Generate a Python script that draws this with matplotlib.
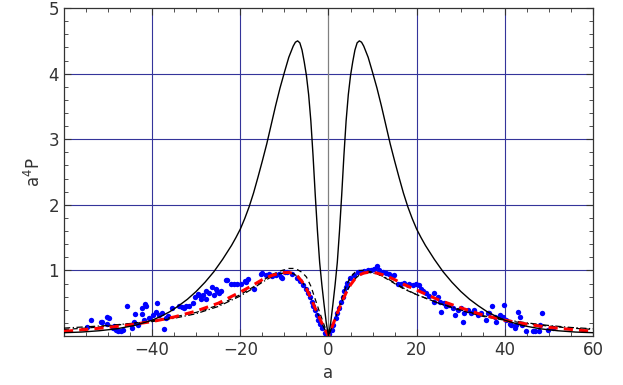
import numpy as np
import matplotlib
matplotlib.use("Agg")
import matplotlib.pyplot as plt
from matplotlib.ticker import MultipleLocator

# courbe noire pleine
solid_x = [-60, -56, -52, -48, -44, -40, -38, -36, -34, -32, -30, -28, -26, -24, -22, -21, -20, -19, -18, -17,
           -16, -15, -14, -13, -12, -11, -10, -9, -8, -7.5, -7, -6.5, -6, -5.5, -5, -4.5, -4, -3.5, -3, -2.5,
           -2, -1.5, -1, -0.5, 0,
           0.5, 1, 1.5, 2, 2.5, 3, 3.5, 4, 4.5, 5, 5.5, 6, 6.5, 7, 7.5, 8, 9, 10, 11, 12, 13, 14, 15, 16,
           17, 18, 19, 20, 21, 22, 24, 26, 28, 30, 32, 34, 36, 38, 40, 44, 48, 52, 56, 60]
solid_y = [0.05, 0.06, 0.08, 0.11, 0.16, 0.24, 0.30, 0.37, 0.46, 0.56, 0.68, 0.82, 0.98, 1.17, 1.38, 1.50,
           1.63, 1.79, 1.97, 2.18, 2.42, 2.67, 2.93, 3.22, 3.51, 3.78, 4.02, 4.25, 4.42, 4.48, 4.50, 4.47,
           4.36, 4.18, 3.97, 3.68, 3.28, 2.75, 2.15, 1.60, 1.12, 0.78, 0.48, 0.20, 0.0,
           0.20, 0.48, 0.78, 1.12, 1.60, 2.15, 2.75, 3.28, 3.68, 3.97, 4.18, 4.36, 4.47, 4.50, 4.48, 4.42,
           4.25, 4.02, 3.78, 3.51, 3.22, 2.93, 2.67, 2.42, 2.18, 1.97, 1.79, 1.63, 1.50, 1.38, 1.17, 0.98,
           0.82, 0.68, 0.56, 0.46, 0.37, 0.30, 0.24, 0.16, 0.11, 0.08, 0.06, 0.05]

# courbes ajustées
fit_x = [-60, -55, -50, -45, -40, -35, -30, -25, -20, -17, -15, -13, -11, -9, -8, -7, -6, -5, -4, -3, -2, -1, 0,
         1, 2, 3, 4, 5, 6, 7, 8, 9, 11, 13, 15, 17, 20, 25, 30, 35, 40, 45, 50, 55, 60]
red_y = [0.07, 0.10, 0.13, 0.17, 0.22, 0.29, 0.38, 0.50, 0.67, 0.78, 0.86, 0.92, 0.96, 0.97, 0.95, 0.91, 0.83,
         0.72, 0.58, 0.42, 0.27, 0.12, 0.0,
         0.17, 0.35, 0.51, 0.66, 0.78, 0.87, 0.93, 0.96, 0.97, 0.96, 0.92, 0.86, 0.79, 0.70, 0.55, 0.43, 0.32,
         0.24, 0.18, 0.13, 0.10, 0.07]
dash_y = [0.10, 0.12, 0.15, 0.19, 0.23, 0.29, 0.36, 0.47, 0.63, 0.75, 0.84, 0.93, 0.99, 1.03, 1.03, 1.01, 0.97,
          0.90, 0.76, 0.56, 0.36, 0.17, 0.0,
          0.17, 0.36, 0.56, 0.76, 0.90, 0.97, 1.00, 1.00, 0.99, 0.95, 0.88, 0.80, 0.72, 0.63, 0.50, 0.39, 0.30,
          0.24, 0.19, 0.15, 0.12, 0.10]
dashdot_y = [0.12, 0.14, 0.16, 0.19, 0.22, 0.27, 0.34, 0.45, 0.61, 0.73, 0.82, 0.90, 0.95, 0.97, 0.95, 0.91, 0.83,
             0.72, 0.58, 0.42, 0.27, 0.12, 0.0,
             0.17, 0.35, 0.51, 0.66, 0.78, 0.87, 0.93, 0.96, 0.97, 0.95, 0.89, 0.81, 0.73, 0.63, 0.50, 0.40, 0.31,
             0.25, 0.20, 0.16, 0.13, 0.11]

# points mesurés
pts_x = [-54.7, -53.8, -51.5, -51.3, -50.2, -50.2, -49.8, -48.8, -48.6, -48.3, -47.8, -47.1, -46.5, -45.6, -44.5,
         -44.2, -43.9, -43.3, -42.4, -42.2, -41.8, -41.6, -41.5, -40.7, -39.9, -39.2, -38.8, -38.4, -37.8, -37.3,
         -36.8, -36.3, -35.4, -33.9, -33.2, -32.7, -32.4, -31.6, -30.8, -30.2, -29.6, -29.3, -29.0, -28.4, -27.8,
         -27.7, -27.1, -26.4, -26.0, -25.5, -25.4, -24.8, -24.3, -23.3, -23.0, -22.2, -21.4, -20.7, -19.9, -19.0,
         -18.7, -18.3, -16.9, -15.4, -15.0, -14.2, -13.5, -12.7, -12.0, -11.2, -10.8, -10.5, -9.9, -9.3, -8.2,
         -7.2, -6.4, -5.7, -5.2, -4.6, -4.2, -3.8, -3.4, -3.0, -2.7, -2.3, -1.9, -1.4, -0.8, -0.5,
         0.15, 0.7, 1.1, 1.7, 2.0, 2.4, 2.8, 3.2, 3.6, 3.9, 4.3, 4.9, 5.7, 6.6, 7.3, 8.1, 8.9, 9.6, 10.4, 11.0,
         11.5, 12.3, 13.0, 13.8, 14.5, 14.9, 15.7, 16.4, 17.2, 18.0, 18.3, 19.1, 19.8, 20.6, 21.0, 21.4, 22.1,
         22.9, 23.9, 24.0, 24.8, 25.2, 25.5, 26.1, 26.7, 27.4, 28.2, 28.6, 29.3, 30.1, 30.5, 30.8, 31.6, 32.3,
         33.1, 33.9, 34.6, 35.8, 36.1, 36.5, 37.0, 37.7, 38.0, 38.8, 39.5, 39.9, 40.3, 41.1, 41.4, 42.2, 42.6,
         43.1, 43.5, 43.9, 44.8, 46.4, 46.9, 47.7, 47.9, 48.4, 49.8, 50.9]
pts_y = [0.14, 0.25, 0.21, 0.22, 0.19, 0.29, 0.28, 0.12, 0.15, 0.09, 0.08, 0.08, 0.09, 0.45, 0.12,
         0.22, 0.34, 0.17, 0.33, 0.42, 0.24, 0.49, 0.45, 0.28, 0.32, 0.36, 0.50, 0.32, 0.35, 0.11,
         0.28, 0.30, 0.42, 0.45, 0.44, 0.42, 0.46, 0.46, 0.50, 0.59, 0.64, 0.63, 0.56, 0.63, 0.57,
         0.69, 0.65, 0.75, 0.63, 0.71, 0.69, 0.66, 0.69, 0.86, 0.85, 0.80, 0.79, 0.80, 0.79, 0.84,
         0.83, 0.87, 0.71, 0.95, 0.96, 0.93, 0.94, 0.91, 0.93, 0.94, 0.90, 0.88, 0.97, 0.97, 0.94,
         0.89, 0.84, 0.78, 0.71, 0.65, 0.59, 0.52, 0.46, 0.39, 0.32, 0.25, 0.18, 0.12, 0.05, 0.02,
         0.03, 0.09, 0.17, 0.27, 0.35, 0.42, 0.52, 0.60, 0.68, 0.75, 0.81, 0.88, 0.93, 0.97, 0.98, 0.99, 1.00, 1.01, 1.02, 1.06,
         1.01, 0.97, 0.96, 0.95, 0.91, 0.93, 0.80, 0.79, 0.81, 0.78, 0.80, 0.78, 0.80, 0.78, 0.71, 0.68, 0.65,
         0.61, 0.65, 0.52, 0.59, 0.52, 0.37, 0.50, 0.45, 0.47, 0.42, 0.32, 0.40, 0.42, 0.22, 0.35, 0.40, 0.35,
         0.40, 0.32, 0.35, 0.24, 0.35, 0.35, 0.45, 0.29, 0.22, 0.32, 0.29, 0.47, 0.24, 0.19, 0.17, 0.12, 0.17,
         0.37, 0.29, 0.17, 0.08, 0.08, 0.08, 0.08, 0.17, 0.35, 0.09, 0.12]

grid_col = '#34349a'

fig = plt.figure(figsize=(6.23, 3.85), dpi=100)
ax = fig.add_axes([0.1027, 0.1273, 0.8491, 0.8517])

for gx in [-40, -20, 20, 40]:
    ax.axvline(gx, color=grid_col, lw=0.8, zorder=0)
for gy in [1, 2, 3, 4]:
    ax.axhline(gy, color=grid_col, lw=0.8, zorder=0)
ax.axvline(0, color='#808080', lw=0.9, zorder=0)

ax.scatter(pts_x, pts_y, s=15, color='#0000ff', linewidths=0, zorder=2)
ax.plot(fit_x, dashdot_y, color='black', lw=0.9, dashes=(5, 2, 1, 2), zorder=3)
ax.plot(fit_x, dash_y, color='black', lw=0.9, dashes=(4, 3), zorder=3)
ax.plot(fit_x, red_y, color='#ff0000', lw=2.2, dashes=(3, 2), zorder=4)
ax.plot(solid_x, solid_y, color='black', lw=1.0, zorder=5)

ax.set_xlim(-60, 60)
ax.set_ylim(0, 5)
ax.set_xticks([-40, -20, 0, 20, 40, 60])
ax.set_xticklabels(['\u221240', '\u221220', '0', '20', '40', '60'])
ax.set_yticks([1, 2, 3, 4, 5])
ax.xaxis.set_minor_locator(MultipleLocator(5))
ax.yaxis.set_minor_locator(MultipleLocator(0.2))
ax.tick_params(which='both', direction='in', top=True, right=True, labelsize=12, colors='#333333')
ax.tick_params(which='major', length=5, width=0.8)
ax.tick_params(which='minor', length=3, width=0.6)
for s in ax.spines.values():
    s.set_color('#333333')
    s.set_linewidth(0.9)

ax.set_xlabel('a', fontsize=12, color='#333333', labelpad=4)
ax.set_ylabel('a$^{4}$P', fontsize=12, color='#333333', labelpad=3)

plt.savefig('out.png', dpi=100)
